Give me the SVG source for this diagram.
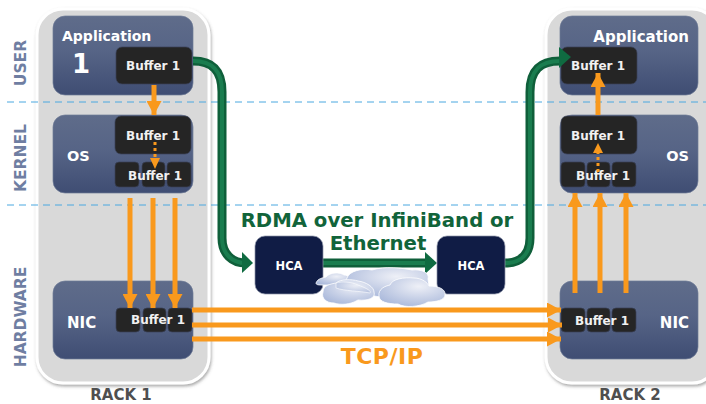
<svg xmlns="http://www.w3.org/2000/svg" width="706" height="404" viewBox="0 0 706 404">
<defs>
<linearGradient id="box" x1="0" y1="0" x2="0" y2="1"><stop offset="0" stop-color="#5f6c8a"/><stop offset="0.45" stop-color="#566486"/><stop offset="1" stop-color="#3f4d73"/></linearGradient>
<radialGradient id="cl" cx="0.6" cy="0.3" r="0.75"><stop offset="0" stop-color="#eef0f7"/><stop offset="0.55" stop-color="#c8d1e7"/><stop offset="1" stop-color="#aab9db"/></radialGradient>
<marker id="oa" markerUnits="userSpaceOnUse" markerWidth="14" markerHeight="15" refX="14" refY="7.5" orient="auto"><path d="M0 0L14 7.5L0 15Z" fill="#f9991d"/></marker>
<filter id="sh" x="-5%" y="-5%" width="112%" height="110%"><feDropShadow dx="1" dy="2" stdDeviation="1.5" flood-color="#555" flood-opacity="0.5"/></filter>
</defs>
<style>
text{font-family:"DejaVu Sans","Liberation Sans",sans-serif;font-weight:bold}
.rack{fill:#d9d9d9;stroke:#fff;stroke-width:3;filter:url(#sh)}
.box{fill:url(#box);stroke:#6f7b96;stroke-width:0.7}
.buf{fill:#252525;stroke:#3a4058;stroke-width:0.7}
.hca{fill:#101c45;stroke:#8d94a8;stroke-width:0.7}
.w{fill:#fff}
.bt{fill:#f1f1f1;font-size:12px;text-anchor:middle}
.lab{fill:#6f7ea2;font-size:15.5px;text-anchor:middle}
.rk{fill:#4f4f4f;font-size:15px;text-anchor:middle}
.o{stroke:#f9991d;stroke-width:5;fill:none}
.os{stroke:#f9991d;stroke-width:3;stroke-dasharray:3 3;fill:none}
.g{stroke:#0f5f3a;stroke-width:9;fill:none}
.g2{stroke:#1a7d4f;stroke-width:4;fill:none}
.dash{stroke:#4aa8e0;stroke-width:1;stroke-dasharray:7 5;fill:none}
.gt{fill:#11643a;font-size:19.7px;text-anchor:middle}
.cl{fill:url(#cl);stroke:#fff;stroke-width:0.8}
</style>

<g id="rack1"><rect class="rack" x="37" y="9" width="172" height="374" rx="26"/><text class="rk" x="121" y="400">RACK 1</text></g>
<g id="rack2"><rect class="rack" x="546" y="9" width="172" height="374" rx="26"/><text class="rk" x="630" y="400">RACK 2</text></g>

<g id="tiers">
<path class="dash" d="M7 102H706M7 205H706"/>
<text class="lab" transform="translate(26 63) rotate(-90)">USER</text>
<text class="lab" transform="translate(26 158) rotate(-90)">KERNEL</text>
<text class="lab" transform="translate(26 317) rotate(-90)">HARDWARE</text>
</g>

<g id="app1"><rect class="box" x="53" y="16" width="140" height="79" rx="12"/><text class="w" x="62" y="41" font-size="14">Application</text><text class="w" x="81" y="73" font-size="26" text-anchor="middle">1</text><rect class="buf" x="116" y="47" width="76" height="37" rx="6"/><text class="bt" x="153" y="70">Buffer 1</text></g>
<g id="os1"><rect class="box" x="53" y="115" width="140" height="78" rx="12"/><text class="w" x="67" y="161" font-size="14.5">OS</text><rect class="buf" x="115" y="116" width="76" height="38" rx="6"/><text class="bt" x="153" y="140">Buffer 1</text><rect class="buf" x="115" y="162" width="24" height="25" rx="4"/><rect class="buf" x="142" y="162" width="23" height="25" rx="4"/><rect class="buf" x="167" y="162" width="24" height="25" rx="4"/><text class="bt" x="155" y="180">Buffer 1</text></g>
<g id="nic1"><rect class="box" x="53" y="281" width="140" height="78" rx="12"/><text class="w" x="67" y="328" font-size="15">NIC</text><rect class="buf" x="116" y="308" width="24" height="24" rx="4"/><rect class="buf" x="143" y="308" width="23" height="24" rx="4"/><rect class="buf" x="168" y="308" width="24" height="24" rx="4"/><text class="bt" x="158" y="324">Buffer 1</text></g>

<g id="app2"><rect class="box" x="560" y="16" width="138" height="79" rx="12"/><text class="w" x="689" y="42" font-size="15" text-anchor="end">Application</text><rect class="buf" x="561" y="47" width="76" height="37" rx="6"/><text class="bt" x="598" y="70">Buffer 1</text></g>
<g id="os2"><rect class="box" x="560" y="115" width="138" height="78" rx="12"/><text class="w" x="689" y="161" font-size="14.5" text-anchor="end">OS</text><rect class="buf" x="561" y="116" width="76" height="38" rx="6"/><text class="bt" x="598" y="140">Buffer 1</text><rect class="buf" x="561" y="162" width="24" height="25" rx="4"/><rect class="buf" x="587" y="162" width="23" height="25" rx="4"/><rect class="buf" x="612" y="162" width="24" height="25" rx="4"/><text class="bt" x="603" y="180">Buffer 1</text></g>
<g id="nic2"><rect class="box" x="560" y="281" width="138" height="78" rx="12"/><text class="w" x="689" y="328" font-size="15" text-anchor="end">NIC</text><rect class="buf" x="561" y="308" width="24" height="24" rx="4"/><rect class="buf" x="587" y="308" width="23" height="24" rx="4"/><rect class="buf" x="612" y="308" width="24" height="24" rx="4"/><text class="bt" x="602" y="325">Buffer 1</text></g>

<g id="connectors">
<path class="g" d="M193 61C212 61 222 70 222 92V238C222 254 232 263 246 263"/>
<path class="g2" d="M193 61C212 61 222 70 222 92V238C222 254 232 263 246 263"/>
<path d="M242 252L253 263L242 273Z" fill="#0f6b41"/>
<path class="g" d="M323 263H428"/><path class="g2" d="M323 263H428"/>
<path d="M425 252L437 263L425 274Z" fill="#0f6b41"/>
<path class="g" d="M505 263C521 263 530 254 530 238V92C530 70 540 61 560 61"/>
<path class="g2" d="M505 263C521 263 530 254 530 238V92C530 70 540 61 560 61"/>
<path d="M559 47L571 57L559 68Z" fill="#0f6b41"/>

<path class="o" d="M154 85V115" marker-end="url(#oa)"/>
<path class="os" d="M155 142V162"/><path d="M150 158L160 158L155 169Z" fill="#f9991d"/>
<path class="o" d="M130 198V308" marker-end="url(#oa)"/>
<path class="o" d="M153 198V308" marker-end="url(#oa)"/>
<path class="o" d="M175 198V308" marker-end="url(#oa)"/>
<path class="o" d="M192 310H561" marker-end="url(#oa)"/>
<path class="o" d="M192 325H562" marker-end="url(#oa)"/>
<path class="o" d="M192 339H561" marker-end="url(#oa)"/>
<path class="o" d="M575 293V193" marker-end="url(#oa)"/>
<path class="o" d="M600 293V193" marker-end="url(#oa)"/>
<path class="o" d="M626 293V193" marker-end="url(#oa)"/>
<path class="o" d="M598 115V73" marker-end="url(#oa)"/>
<path class="os" d="M598 172V150"/><path d="M593 153L603 153L598 143Z" fill="#f9991d"/>
</g>

<g id="hca1"><rect class="hca" x="255" y="236" width="68" height="58" rx="10"/><text class="w" x="289" y="270" font-size="11.5" text-anchor="middle">HCA</text></g>
<g id="hca2"><rect class="hca" x="437" y="236" width="68" height="58" rx="10"/><text class="w" x="471" y="270" font-size="11.5" text-anchor="middle">HCA</text></g>

<g id="cloud">
<path class="cl" d="M316 283C318 278 323 278 326 277C330 272 340 272 344 275C349 275 351 279 350 282L340 285L322 285C319 285 316 285 316 283Z"/>
<path class="cl" d="M347 278C349 271 362 268 372 270C385 266 402 268 412 270C422 269 430 273 428 279L430 292L380 297L352 292C345 288 345 282 347 278Z"/>
<path class="cl" d="M323 292C323 285 331 284 336 283C340 279 352 279 358 281C366 282 374 287 374 292C376 298 368 301 358 300C350 305 340 305 334 303C326 303 321 298 323 292Z"/>
<path class="cl" d="M336 283C342 281 352 282 358 285C366 288 372 291 370 293C360 291 344 291 336 288Z" opacity="0.7"/>
<path class="cl" d="M379 296C378 289 385 286 390 285C392 279 404 277 414 278C422 278 428 283 429 286C438 286 446 289 445 295C445 300 436 302 428 302C420 307 405 308 398 304C388 304 379 302 379 296Z"/>
</g>

<g id="labels">
<text class="gt" x="377" y="227">RDMA over InfiniBand or</text>
<text class="gt" x="378" y="250">Ethernet</text>
<text x="382" y="364" fill="#f9991d" font-size="22" letter-spacing="0.5" text-anchor="middle">TCP/IP</text>
</g>
</svg>
